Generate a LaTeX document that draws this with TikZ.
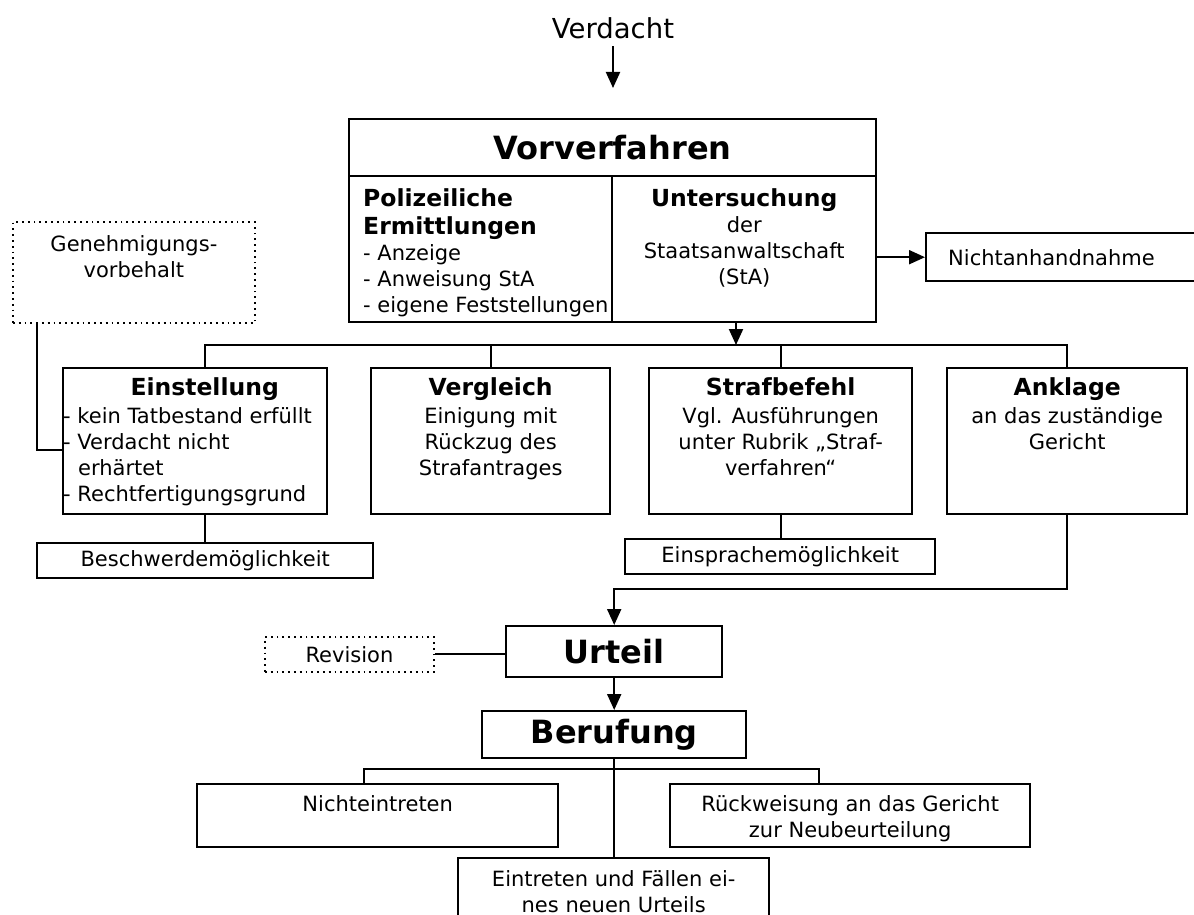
\documentclass[tikz,border=0pt]{standalone}
\usepackage{fontspec}
\setmainfont{DejaVu Sans}
\usetikzlibrary{arrows.meta}
\newlength{\unitpx}
\setlength{\unitpx}{0.5pt}
\newcommand{\normtxt}{\fontsize{10.5}{13}\selectfont}
\newcommand{\titletxt}{\fontsize{11.75}{14}\selectfont\bfseries}
\newcommand{\bigtxt}{\fontsize{16}{19}\selectfont\bfseries}
\tikzstyle{stbox} = [draw=black, line width=1.2pt, rectangle, inner sep=0pt,
    anchor=north west, font=\normtxt]
\tikzstyle{dotbox} = [stbox, line width=0.9pt, dotted]
\tikzstyle{conn} = [line width=1pt]
\tikzstyle{arr} = [conn, -{Triangle[length=8pt,width=7pt]}]

\begin{document}
\begin{tikzpicture}[x=0.5pt, y=-0.5pt]
    \path[use as bounding box, clip] (0,0) rectangle (1194,915);

    \node[font=\fontsize{13.75}{16}\selectfont, inner sep=3.5pt] (verdacht) at (613,28) {Verdacht};
    \coordinate (verdachtend) at (613,88);
    \draw[arr] (verdacht) -- (verdachtend);

    % Vorverfahren
    \node[stbox, minimum width=527\unitpx, minimum height=57\unitpx, font=\bigtxt] (vorverf) at (348,118) {Vorverfahren};
    \node[stbox] (polizei) at (348,175) {
        \begin{minipage}[t][146\unitpx][t]{263\unitpx}
            \leftskip=14\unitpx
            {\titletxt\rule{0pt}{30.6\unitpx}Polizeiliche\\ Ermittlungen\par}
            - Anzeige\\
            - Anweisung StA\\
            - eigene Feststellungen
        \end{minipage}
    };
    \node[stbox] (unters) at (611,175) {
        \begin{minipage}[t][146\unitpx][t]{264\unitpx}
            \centering
            {\titletxt\rule{0pt}{30.6\unitpx}Untersuchung\par}
            der\\
            Staatsanwaltschaft\\
            (StA)
        \end{minipage}
    };
    \node[stbox, minimum height=48\unitpx, text width=280\unitpx, inner xsep=22\unitpx, align=left] (nichtan) at (925,232) {Nichtanhandnahme};
    \draw[arr] (unters.east |- nichtan.west) -- (nichtan.west);

    \coordinate (bus) at (736,345);
    \draw[arr] (unters.south -| bus) -- (bus);

    % Erledigung
    \node[dotbox] (genehm) at (12,221) {
        \begin{minipage}[t][101\unitpx][t]{242\unitpx}
            \centering
            \rule{0pt}{29.6\unitpx}Genehmigungs-\\
            vorbehalt
        \end{minipage}
    };
    \node[stbox] (einst) at (62,367) {
        \begin{minipage}[t][146\unitpx][t]{264\unitpx}
            {\centering\titletxt\hspace*{19\unitpx}\rule{0pt}{27.6\unitpx}Einstellung\par}
            \vspace{1pt}
            - kein Tatbestand erfüllt\\
            - Verdacht nicht\\
            \hspace*{15\unitpx}erhärtet\\
            - Rechtfertigungsgrund
        \end{minipage}
    };
    \node[stbox] (vergl) at (370,367) {
        \begin{minipage}[t][146\unitpx][t]{239\unitpx}
            \centering
            {\titletxt\rule{0pt}{27.6\unitpx}Vergleich\par}
            \vspace{1pt}
            Einigung mit\\
            Rückzug des\\
            Strafantrages
        \end{minipage}
    };
    \node[stbox] (strafb) at (648,367) {
        \begin{minipage}[t][146\unitpx][t]{263\unitpx}
            \centering
            {\titletxt\rule{0pt}{27.6\unitpx}Strafbefehl\par}
            \vspace{1pt}
            Vgl. Ausführungen\\
            unter Rubrik „Straf-\\
            verfahren“
        \end{minipage}
    };
    \node[stbox] (anklage) at (946,367) {
        \begin{minipage}[t][146\unitpx][t]{240\unitpx}
            \centering
            {\titletxt\rule{0pt}{27.6\unitpx}Anklage\par}
            \vspace{1pt}
            an das zuständige\\
            Gericht
        \end{minipage}
    };

    \node[stbox, minimum width=336\unitpx, minimum height=35\unitpx] (beschw) at (36,542) {Beschwerdemöglichkeit};
    \node[stbox, minimum width=310\unitpx, minimum height=35\unitpx] (einspr) at (624,538) {Einsprachemöglichkeit};

    \draw[conn] (einst.north -| beschw.north) |- (bus) -| (anklage.north);
    \draw[conn] (vergl.north) -- (vergl.north |- bus);
    \draw[conn] (strafb.north) -- (strafb.north |- bus);
    \draw[conn] ([xshift=12.5pt]genehm.south west) |- ([yshift=-4.5pt]einst.west);
    \draw[conn] (einst.south -| beschw.north) -- (beschw.north);
    \draw[conn] (strafb.south) -- (strafb.south |- einspr.north);

    % Hauptverfahren
    \node[stbox, minimum width=216\unitpx, minimum height=51\unitpx, font=\bigtxt] (urteil) at (505,625) {Urteil};
    \node[dotbox, minimum width=169\unitpx, minimum height=35\unitpx] (revision) at (264,636) {Revision};
    \node[stbox, minimum width=264\unitpx, minimum height=47\unitpx, font=\bigtxt] (berufung) at (481,710) {Berufung};
    \draw[arr] (anklage.south) -- ++(0,74) -| (urteil.north);
    \draw[conn] (revision.east) -- (revision.east -| urteil.west);
    \draw[arr] (urteil.south) -- (urteil.south |- berufung.north);

    \node[stbox] (nichtein) at (196,783) {
        \begin{minipage}[t][63\unitpx][t]{361\unitpx}
            \centering
            \rule{0pt}{27.6\unitpx}Nichteintreten
        \end{minipage}
    };
    \node[stbox] (rueckw) at (669,783) {
        \begin{minipage}[t][63\unitpx][t]{360\unitpx}
            \centering
            \rule{0pt}{27.6\unitpx}Rückweisung an das Gericht\\
            zur Neubeurteilung
        \end{minipage}
    };
    \node[stbox] (eintret) at (457,857) {
        \begin{minipage}[t][100\unitpx][t]{311\unitpx}
            \centering
            \rule{0pt}{28.6\unitpx}Eintreten und Fällen ei-\\
            nes neuen Urteils
        \end{minipage}
    };
    \coordinate (berbus) at (613,769);
    \draw[conn] (urteil.south |- berufung.south) -- (urteil.south |- eintret.north);
    \draw[conn] ([xshift=-6.75pt]nichtein.north) |- (berbus) -| ([xshift=-15.5pt]rueckw.north);
\end{tikzpicture}
\end{document}
